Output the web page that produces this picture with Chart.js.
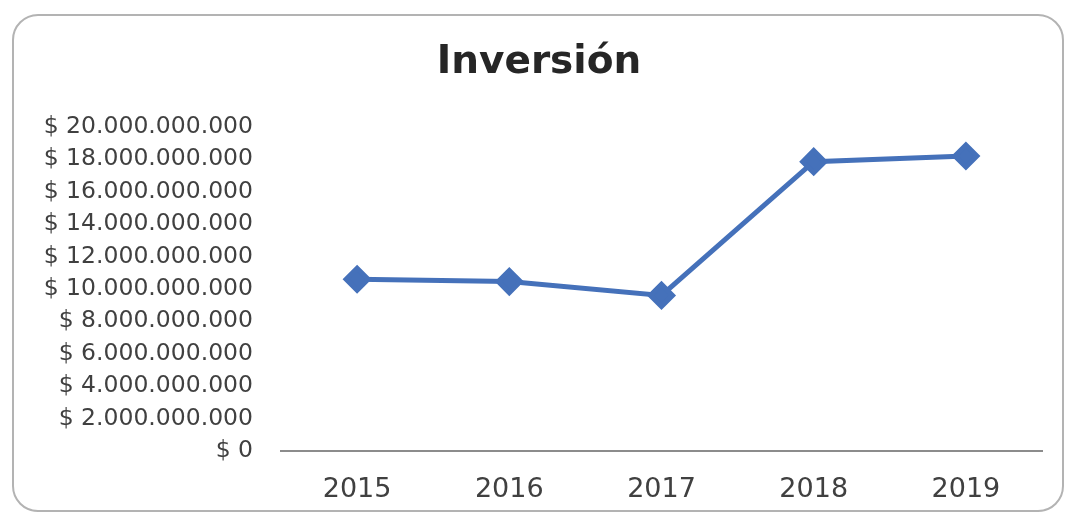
<!DOCTYPE html>
<html>
<head>
<meta charset="utf-8">
<script src="https://cdn.jsdelivr.net/npm/chart.js@4"></script>
<style>
  body { margin:0; background:#fff; }
  #cadre { position:absolute; left:12px; top:14px; width:1048px; height:494px;
           border:2px solid #b3b3b3; border-radius:26px; }
  #zone { position:absolute; left:0; top:0; width:1069px; height:514px; }
</style>
</head>
<body>
<div id="cadre"></div>
<div id="zone"><canvas id="inversion"></canvas></div>
<script>
// Les données
const annees = ['2015', '2016', '2017', '2018', '2019'];
const inversion = [10600000000, 10450000000, 9600000000, 17850000000, 18200000000];
const ticksY = [0, 2000000000, 4000000000, 6000000000, 8000000000, 10000000000,
                12000000000, 14000000000, 16000000000, 18000000000, 20000000000];

// format "$ 20.000.000.000"
function pesos(v){
    return '$ ' + String(Math.round(v)).replace(/\B(?=(\d{3})+(?!\d))/g, '.');
}

const c = new Chart('inversion', {
    type:'line',
    data: {
        labels: annees,
        datasets: [{
            label:'Inversión',
            data: inversion,
            borderColor:'#4571BA',
            backgroundColor:'#4571BA',
            borderWidth:5,
            pointStyle:'rectRot',
            pointRadius:11,
            pointHoverRadius:11,
            tension:0
        }]
    },
    options: {
        responsive:true,
        maintainAspectRatio:false,
        animation:false,
        layout: { padding: { left:36, right:27, top:39, bottom:13 } },
        plugins: {
            legend: { display:false },
            tooltip: { enabled:false },
            title: {
                display:true,
                text:'Inversión',
                color:'#262626',
                font: { family:'DejaVu Sans', size:39, weight:'bold' },
                padding: { top:0, bottom:41 }
            }
        },
        scales: {
            x: {
                offset:true,
                grid: { display:false, drawTicks:false, offset:true },
                border: { display:true, color:'#8c8c8c', width:2 },
                ticks: { color:'#404040', padding:23, font:{ family:'DejaVu Sans', size:27 } },
                afterFit: (s) => { s.height = 50; }
            },
            y: {
                min:0,
                max:20000000000,
                afterBuildTicks: (s) => { s.ticks = ticksY.map(v => ({ value:v })); },
                grid: { display:false, drawTicks:false },
                border: { display:false },
                ticks: {
                    color:'#404040',
                    padding:28,
                    font:{ family:'DejaVu Sans', size:23.5 },
                    callback: (v) => pesos(v)
                },
                afterFit: (s) => { s.width = 245; }
            }
        }
    }
});
</script>
</body>
</html>
